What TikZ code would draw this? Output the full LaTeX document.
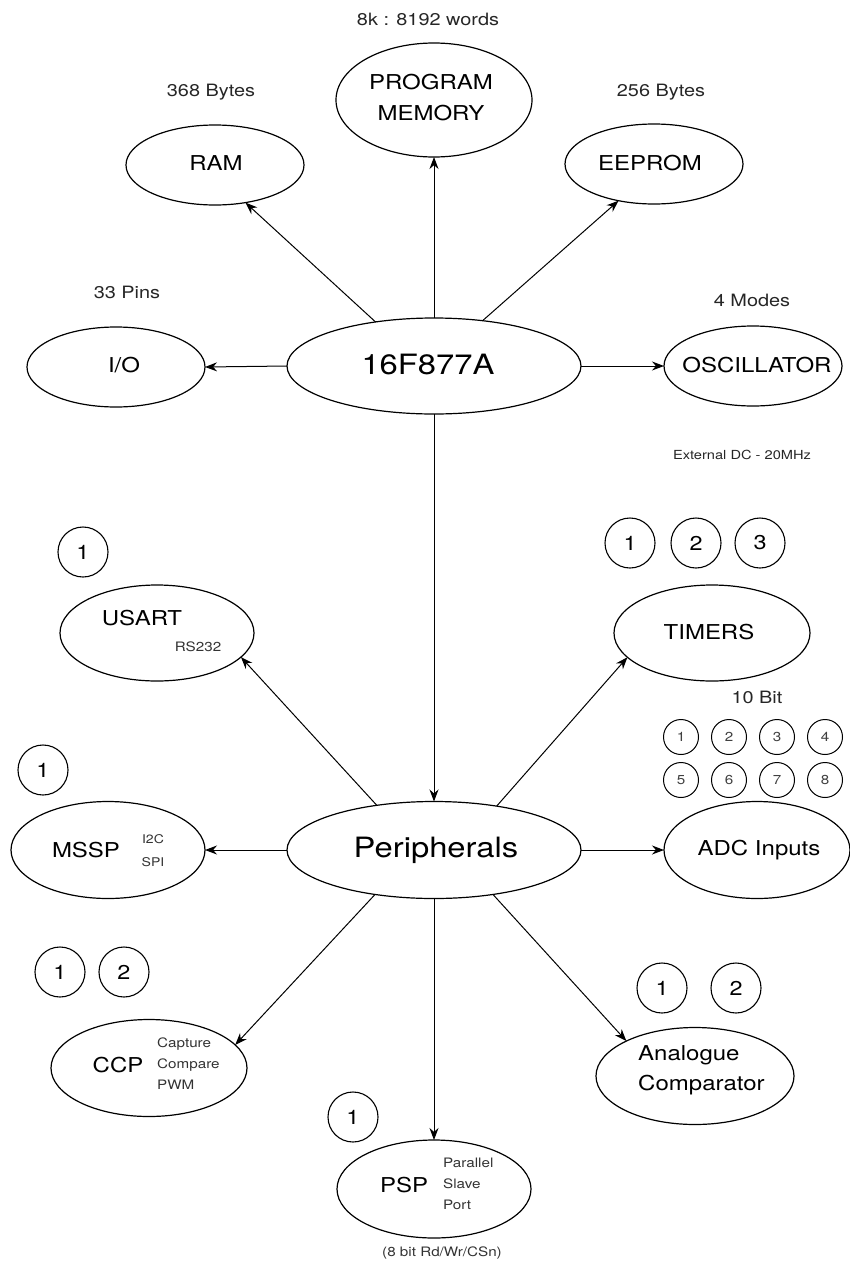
\documentclass[tikz,border=0pt]{standalone}
\usepackage{fontspec}
\setmainfont{TeX Gyre Heros}[FakeStretch=1.17]
\usetikzlibrary{shapes.geometric,arrows.meta}
\begin{document}
\begin{tikzpicture}[x=1pt,y=-1pt,
  oval/.style={draw, ellipse, line width=1.2pt, inner sep=0pt, outer sep=0pt},
  num/.style={draw, circle, minimum size=50pt, inner sep=0pt, line width=1.1pt, font=\fontsize{20}{24}\selectfont},
  snum/.style={draw, circle, minimum size=35pt, inner sep=0pt, line width=1pt, font=\fontsize{13}{15}\selectfont, text=black!75},
  arr/.style={-{Stealth[length=12pt,width=9pt]}, line width=1pt},
  lab/.style={font=\fontsize{20.5}{31}\selectfont, inner sep=0pt, align=center},
  big/.style={font=\fontsize{28}{32}\selectfont, inner sep=0pt},
  note/.style={font=\fontsize{17}{20}\selectfont, inner sep=0pt, text=black!85},
  small/.style={font=\fontsize{13}{21}\selectfont, inner sep=0pt, text=black!80}]
\useasboundingbox (0,0) rectangle (850,1264);

% ellipses
\node[oval, minimum width=196pt, minimum height=114pt] (pm) at (434,100) {};
\node[oval, minimum width=178pt, minimum height=80pt] (ram) at (215,165) {};
\node[oval, minimum width=178pt, minimum height=80pt] (eep) at (654,164) {};
\node[oval, minimum width=178pt, minimum height=80pt] (io) at (116,367) {};
\node[oval, minimum width=294pt, minimum height=96pt] (cpu) at (434,366) {};
\node[oval, minimum width=178pt, minimum height=80pt] (osc) at (753,366) {};
\node[oval, minimum width=194pt, minimum height=96pt] (usart) at (157,633) {};
\node[oval, minimum width=196pt, minimum height=96pt] (timers) at (712,633) {};
\node[oval, minimum width=194pt, minimum height=97pt] (mssp) at (108,850) {};
\node[oval, minimum width=294pt, minimum height=97pt] (per) at (434,850) {};
\node[oval, minimum width=186pt, minimum height=97pt] (adc) at (757,850) {};
\node[oval, minimum width=196pt, minimum height=97pt] (ccp) at (149,1068) {};
\node[oval, minimum width=198pt, minimum height=97pt] (ac) at (695,1076) {};
\node[oval, minimum width=194pt, minimum height=98pt] (psp) at (434,1189) {};

% texts
\node[note] (t8k) at (428,19) {8k : 8192 words};
\node[lab] (tpm) at (431,97.5) {PROGRAM\\MEMORY};
\node[note] (t368) at (211,92) {368 Bytes};
\node[lab] (tram) at (216,163) {RAM};
\node[note] (t256) at (661,92) {256 Bytes};
\node[lab] (teep) at (650,163) {EEPROM};
\node[note] (t33) at (127,292) {33 Pins};
\node[note] (t4m) at (752,300) {4 Modes};
\node[lab] (tio) at (124,365) {I/O};
\node[big] (tcpu) at (428,364) {16F877A};
\node[lab] (tosc) at (757,365) {OSCILLATOR};
\node[font=\fontsize{12.5}{15}\selectfont, inner sep=0pt, text=black!85] (text) at (742,455) {External DC - 20MHz};

\node[num] (u1) at (83,552) {1};
\node[lab] (tusart) at (142,618) {USART};
\node[small] (trs) at (198,647) {RS232};

\node[num] (tm1) at (630,543) {1};
\node[num] (tm2) at (696,543) {2};
\node[num] (tm3) at (760,543) {3};
\node[lab] (ttim) at (709,632) {TIMERS};
\node[note] (t10) at (757,697) {10 Bit};

\node[snum] (a1) at (681,737) {1};
\node[snum] (a2) at (729,737) {2};
\node[snum] (a3) at (777,737) {3};
\node[snum] (a4) at (825,737) {4};
\node[snum] (a5) at (681,780) {5};
\node[snum] (a6) at (729,780) {6};
\node[snum] (a7) at (777,780) {7};
\node[snum] (a8) at (825,780) {8};

\node[num] (m1) at (43,770) {1};
\node[lab] (tmssp) at (86,850) {MSSP};
\node[small, align=center, font=\fontsize{12}{23}\selectfont] (ti2c) at (153,851) {I2C\\SPI};
\node[big] (tper) at (436,850) {Peripherals};
\node[lab] (tadc) at (759,850) {ADC Inputs};

\node[num] (c1) at (60,972) {1};
\node[num] (c2) at (124,972) {2};
\node[lab] (tccp) at (118,1065) {CCP};
\node[small, anchor=west, align=left] (tcap) at (157,1064) {Capture\\Compare\\PWM};

\node[num] (k1) at (662,988) {1};
\node[num] (k2) at (736,988) {2};
\node[lab, anchor=west, align=left, font=\fontsize{20.5}{30}\selectfont] (tac) at (638,1070) {Analogue\\Comparator};

\node[num] (p1) at (353,1117) {1};
\node[lab] (tpsp) at (404,1185) {PSP};
\node[small, anchor=west, align=left] (tpar) at (443,1184) {Parallel\\Slave\\Port};
\node[small] (t8b) at (442,1253) {(8 bit Rd/Wr/CSn)};

% connectors
\draw[arr] (cpu.143.6) -- (ram.-51.3);
\draw[arr] (cpu.north) -- (pm.south);
\draw[arr] (cpu.43.3) -- (eep.226.3);
\draw[arr] (cpu.west) -- (io.east);
\draw[arr] (cpu.east) -- (osc.west);
\draw[arr] (cpu.south) -- (per.north);
\draw[arr] (per.142.4) -- (usart.-16.7);
\draw[arr] (per.35.9) -- (timers.196.1);
\draw[arr] (per.west) -- (mssp.east);
\draw[arr] (per.east) -- (adc.west);
\draw[arr] (per.217.6) -- (ccp.15.4);
\draw[arr] (per.-37.1) -- (ac.153.4);
\draw[arr] (per.south) -- (psp.north);
\end{tikzpicture}
\end{document}
